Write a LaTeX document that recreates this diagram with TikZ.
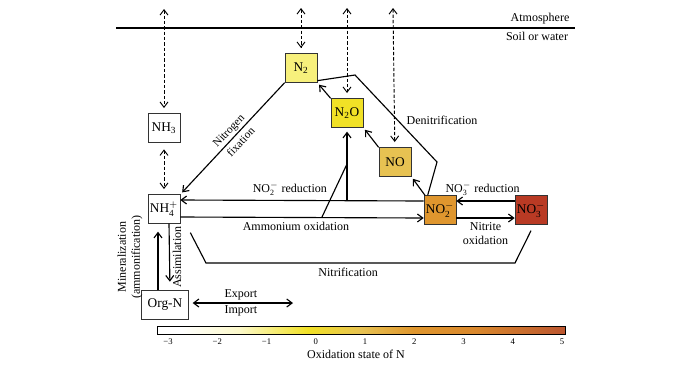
\documentclass[tikz,border=0pt]{standalone}
\usepackage{amsmath}
\usepackage{fontspec}
\setmainfont{Liberation Serif}
\usetikzlibrary{positioning, arrows.meta, arrows}

\definecolor{ntwocol}{HTML}{F7F07C}
\definecolor{ntwoocol}{HTML}{F1E126}
\definecolor{nocol}{HTML}{E7C252}
\definecolor{notwocol}{HTML}{DF962E}
\definecolor{nothreecol}{HTML}{B93A24}

% tikz maps 25bp..75bp of the shading onto the path
\pgfdeclarehorizontalshading{oxbar}{100bp}{color(0bp)=(white); color(25bp)=(white); color(28bp)=(white);
  color(35bp)=(white!60!ntwocol); color(43.5bp)=(ntwoocol); color(50bp)=(nocol);
  color(56.5bp)=(notwocol); color(64bp)=(notwocol!85!nothreecol); color(75bp)=(nothreecol!60!brown);
  color(100bp)=(nothreecol!60!brown)}

\begin{document}
\begin{tikzpicture}[x=0.75pt,y=-0.75pt,->,>={Straight Barb[length=4pt,width=6pt]},line width=0.85pt,
    font=\fontsize{9}{10.5}\selectfont,
    species/.style={draw=black!80,line width=0.5pt,minimum width=24pt,minimum height=21.5pt,inner sep=1pt,
      font=\fontsize{10}{11}\selectfont},
    exchange/.style={<->,dashed,line width=0.7pt,dash pattern=on 2.5pt off 1.5pt,shorten >=4pt},
    flux/.style={-,line width=0.85pt}]
    \useasboundingbox (0,0) rectangle (698,365);

    % atmosphere / soil boundary
    \coordinate (airl) at (116,28);
    \coordinate (airr) at (575,28);
    \draw[-,line width=1.1pt] (airl) -- (airr);
    \node (atm) at (540,19) {Atmosphere};
    \node (soil) at (537,36) {Soil or water};

    % species
    \node[species] (nh3) at (164,128) {NH$_{\text{3}}$};
    \node[species] (nh4) at (164,209) {NH$_{\text{4}}^{+}$};
    \node[species,minimum width=35pt] (orgn) at (165,305) {Org-N};
    \node[species,fill=ntwocol] (ntwo) at (301,68) {N$_{\text{2}}$};
    \node[species,fill=ntwoocol] (ntwoo) at (347,113) {N$_{\text{2}}$O};
    \node[species,fill=nocol] (no) at (395,162) {NO};
    \node[species,fill=notwocol] (notwo) at (440,210) {NO$_{\text{2}}^{-}$};
    \node[species,fill=nothreecol] (nothree) at (531,210) {NO$_{\text{3}}^{-}$};

    % exchange with the atmosphere
    \coordinate (tnh3) at (164,9);
    \coordinate (tntwo) at (301,8);
    \coordinate (tntwoo) at (347,8);
    \coordinate (tno) at (393,8);
    \draw[exchange] (tnh3) -- (nh3);
    \draw[exchange] (tntwo) -- (ntwo);
    \draw[exchange] (tntwoo) -- (ntwoo);
    \draw[exchange] (tno) -- (no);
    \draw[exchange,shorten <=5pt] (nh3) -- (nh4);

    % fixation and denitrification
    \draw[shorten >=2pt] (ntwo.south west) -- node[sloped,align=center,inner sep=0pt,pos=0.48,font=\fontsize{8.5}{9.5}\selectfont] {Nitrogen\\[3pt]fixation} (nh4.north east);
    \draw[shorten >=2pt] (ntwoo.north west) -- (ntwo.south east);
    \draw[shorten >=2pt] (no.north west) -- (ntwoo.south east);
    \draw[shorten >=2pt] ([xshift=1pt]notwo.north west) -- (no.south east);
    \coordinate (dnbend) at (437,162);
    \coordinate (dntop) at (355,75);
    \draw[flux] ([xshift=3pt]notwo.north west) -- (dnbend) -- (dntop) -- ([yshift=1.5pt]ntwo.south east);
    \node (denit) at (442,120) {Denitrification};

    % reduction and oxidation
    \draw ([yshift=6.75pt]notwo.west) -- node[above,pos=0.55] {NO$_{\text{2}}^{-}$ reduction} ([yshift=6.75pt]nh4.east);
    \coordinate (branch) at (347,200);
    \draw[shorten >=3pt] (branch) -- (ntwoo.south);
    \draw ([yshift=-6pt]nh4.east) -- node[below,pos=0.475] {Ammonium oxidation} ([yshift=-6pt]notwo.west);
    \coordinate (amox) at (322,217);
    \coordinate (amoxtop) at (347,164);
    \draw[flux] (amox) -- (amoxtop);
    \draw ([yshift=6.75pt]nothree.west) -- node[above,pos=0.55] {NO$_{\text{3}}^{-}$ reduction} ([yshift=6.75pt]notwo.east);
    \draw ([yshift=-6pt]notwo.east) -- node[below,align=center] {Nitrite\\oxidation} ([yshift=-6pt]nothree.west);

    % nitrification
    \coordinate (nfl) at (206,263);
    \coordinate (nfr) at (515,263);
    \draw[flux] ([shift={(7.5pt,-6.75pt)}]nh4.south east) -- (nfl) -- node[below,pos=0.46] {Nitrification} (nfr) -- ([yshift=-4.5pt]nothree.south);

    % organic nitrogen
    \draw[shorten >=6.5pt] ([xshift=3.75pt]nh4.south) -- node[midway,rotate=90,anchor=north,inner sep=2pt] {Assimilation} ([xshift=3.75pt]orgn.north);
    \draw[shorten >=6pt] ([xshift=-5.25pt]orgn.north) -- node[midway,rotate=90,anchor=south,align=center,yshift=8pt] {Mineralization\\(ammonification)} ([xshift=-4.5pt]nh4.south);
    \coordinate (expend) at (293,303);
    \draw[<->,shorten <=3pt] ([yshift=1.5pt]orgn.east) -- node[above,inner sep=1.5pt] {Export} node[below,inner sep=1.5pt] {Import} (expend);

    % oxidation state scale
    \shade[shading=oxbar] (157,326) rectangle (565,334);
    \draw[-,line width=0.6pt] (157,326) rectangle (565,334);
    \foreach \v in {-3,...,5}
        \node[font=\fontsize{6.5}{7}\selectfont] (tick\v) at ({168+49.25*(\v+3)},342) {\ifnum\v<0 −\number-\v\else\v\fi};
    \node (oxlabel) at (356,354) {Oxidation state of N};
\end{tikzpicture}
\end{document}
